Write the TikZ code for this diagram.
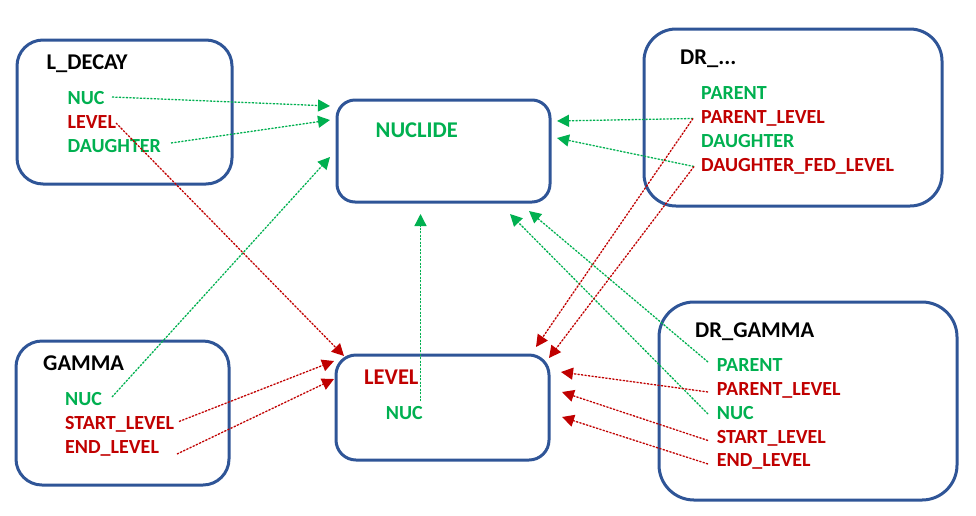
\documentclass[tikz,border=0pt]{standalone}
\usepackage{fontspec}
\setmainfont{Carlito}
\usetikzlibrary{arrows.meta}
\definecolor{boxblue}{HTML}{2F5597}
\definecolor{fgreen}{HTML}{00B050}
\definecolor{fred}{HTML}{C00000}
\tikzset{
  tbox/.style={draw=boxblue, line width=3pt, rectangle, inner sep=0pt, minimum width=#1},
  fieldtxt/.style={anchor=base west, inner sep=0pt, font=\fontsize{20}{22}\selectfont\bfseries},
  titletxt/.style={anchor=base west, inner sep=0pt, font=\fontsize{22.5}{25}\selectfont\bfseries},
  gconn/.style={draw=fgreen, line width=1.3pt, dash pattern=on 2pt off 1.5pt, -{Triangle[length=12pt,width=12pt]}, fill=fgreen},
  rconn/.style={draw=fred, line width=1.3pt, dash pattern=on 2pt off 1.5pt, -{Triangle[length=12pt,width=12pt]}, fill=fred},
}
\begin{document}
\begin{tikzpicture}[x=1pt,y=-1pt]
\useasboundingbox (0,0) rectangle (976,515);
% boxes
\node[tbox=215pt, minimum height=144pt, rounded corners=26pt] (ldecay) at (124.5,112) {};
\node[tbox=213pt, minimum height=102pt, rounded corners=18pt] (nuclide) at (443.5,151) {};
\node[tbox=298pt, minimum height=177pt, rounded corners=32pt] (dr) at (793,117.5) {};
\node[tbox=213pt, minimum height=144pt, rounded corners=26pt] (gamma) at (122.5,413) {};
\node[tbox=213pt, minimum height=105pt, rounded corners=20pt] (level) at (442.5,407.5) {};
\node[tbox=298pt, minimum height=198pt, rounded corners=35pt] (drgamma) at (808,401) {};
% L_DECAY
\node[titletxt] (ldt) at (46.5,69) {L\_DECAY};
\node[fieldtxt, text=fgreen] (ldnuc) at (67.5,104) {NUC};
\node[fieldtxt, text=fred] (ldlevel) at (67.5,128) {LEVEL};
\node[fieldtxt, text=fgreen] (lddau) at (67.5,152) {DAUGHTER};
% NUCLIDE
\node[titletxt, text=fgreen] (nuct) at (375.5,137.5) {NUCLIDE};
% DR_...
\node[titletxt] (drt) at (680,64) {DR\_...};
\node[fieldtxt, text=fgreen] (drpar) at (701,99) {PARENT};
\node[fieldtxt, text=fred] (drparl) at (701,123) {PARENT\_LEVEL};
\node[fieldtxt, text=fgreen] (drdau) at (701,147) {DAUGHTER};
\node[fieldtxt, text=fred] (drdfl) at (701,171) {DAUGHTER\_FED\_LEVEL};
% GAMMA
\node[titletxt] (gt) at (43,370.5) {GAMMA};
\node[fieldtxt, text=fgreen] (gnuc) at (65,405) {NUC};
\node[fieldtxt, text=fred] (gsl) at (65,429) {START\_LEVEL};
\node[fieldtxt, text=fred] (gel) at (65,453) {END\_LEVEL};
% LEVEL
\node[titletxt, text=fred] (lt) at (364,384) {LEVEL};
\node[fieldtxt, text=fgreen] (lnuc) at (385.7,419) {NUC};
% DR_GAMMA
\node[titletxt] (dgt) at (695,337.3) {DR\_GAMMA};
\node[fieldtxt, text=fgreen] (dgpar) at (716.7,371) {PARENT};
\node[fieldtxt, text=fred] (dgparl) at (716.7,395) {PARENT\_LEVEL};
\node[fieldtxt, text=fgreen] (dgnuc) at (716.7,419) {NUC};
\node[fieldtxt, text=fred] (dgsl) at (716.7,443) {START\_LEVEL};
\node[fieldtxt, text=fred] (dgel) at (716.7,466.5) {END\_LEVEL};
% connector end points
\coordinate (s1) at (112,97);   \coordinate (t1) at (330,106);
\coordinate (s2) at (171,143);  \coordinate (t2) at (330,120);
\coordinate (s3) at (112,397);  \coordinate (t3) at (330,157);
\coordinate (s4) at (420.5,401);\coordinate (t4) at (420.5,214);
\coordinate (s5) at (693,118.5);\coordinate (t5) at (557,121);
\coordinate (s6) at (694,166.5);\coordinate (t6) at (557,138);
\coordinate (s7) at (708,362);  \coordinate (t7) at (529,211);
\coordinate (s8) at (708,414);  \coordinate (t8) at (510,214);
\coordinate (s9) at (116,123);  \coordinate (t9) at (344,356);
\coordinate (s10) at (179,421.5); \coordinate (t10) at (334,361);
\coordinate (s11) at (177,454);   \coordinate (t11) at (334,379);
\coordinate (s12) at (693,118.5); \coordinate (t12) at (536,347);
\coordinate (s13) at (694,166.5); \coordinate (t13) at (549,358);
\coordinate (s14) at (708,392);   \coordinate (t14) at (561,372);
\coordinate (s15) at (708,440.5); \coordinate (t15) at (562,392);
\coordinate (s16) at (708,464);   \coordinate (t16) at (562,417);
% green connectors
\draw[gconn] (s1) -- (t1);
\draw[gconn] (s2) -- (t2);
\draw[gconn] (s3) -- (t3);
\draw[gconn] (s4) -- (t4);
\draw[gconn] (s5) -- (t5);
\draw[gconn] (s6) -- (t6);
\draw[gconn] (s7) -- (t7);
\draw[gconn] (s8) -- (t8);
% red connectors
\draw[rconn] (s9) -- (t9);
\draw[rconn] (s10) -- (t10);
\draw[rconn] (s11) -- (t11);
\draw[rconn] (s12) -- (t12);
\draw[rconn] (s13) -- (t13);
\draw[rconn] (s14) -- (t14);
\draw[rconn] (s15) -- (t15);
\draw[rconn] (s16) -- (t16);
\end{tikzpicture}
\end{document}
